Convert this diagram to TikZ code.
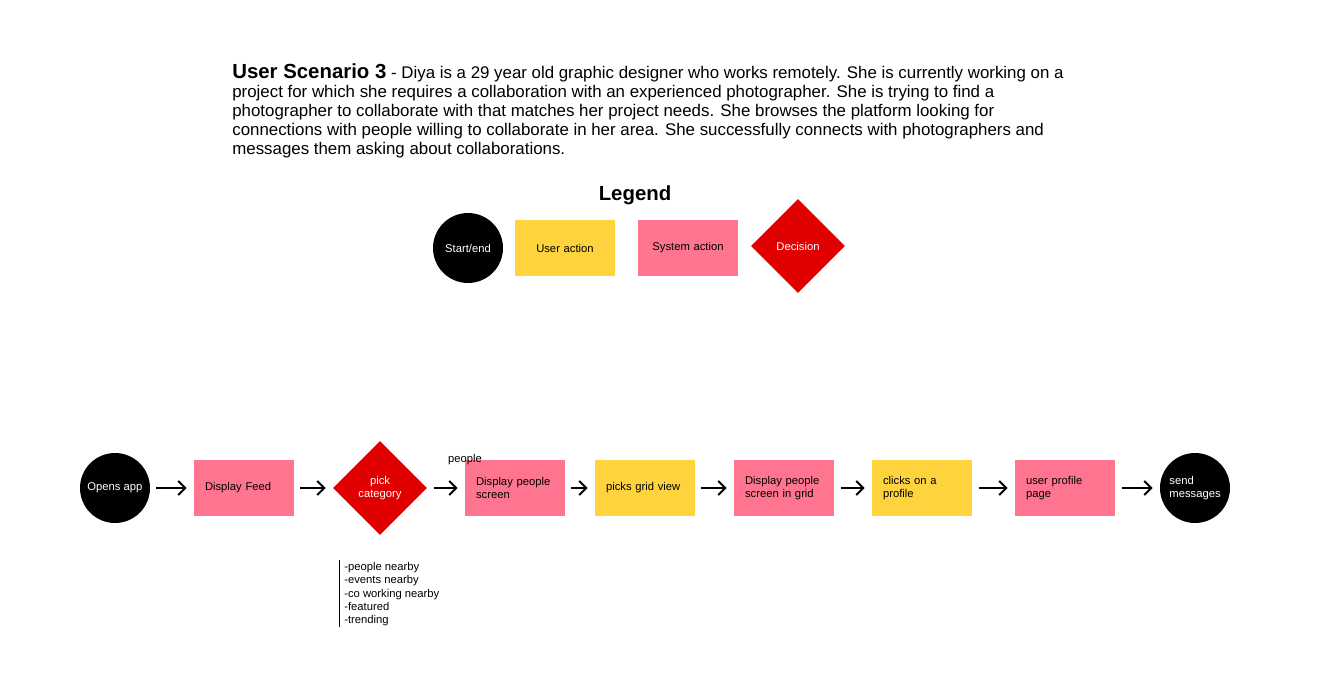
\documentclass[tikz,border=0pt]{standalone}
\usepackage{fontspec}
\setmainfont{Liberation Sans}
\usetikzlibrary{shapes.geometric}
\usetikzlibrary{arrows.meta}

\definecolor{useryellow}{RGB}{255,211,61}
\definecolor{syspink}{RGB}{255,117,143}
\definecolor{decred}{RGB}{224,0,0}

\tikzset{
  small/.style={font=\fontsize{6.4}{7.6}\selectfont},
  startend/.style={circle,fill=black,text=white,minimum size=1.4cm,inner sep=0pt,align=center,small},
  useract/.style={rectangle,fill=useryellow,minimum height=1.12cm,text width=1.56cm,inner xsep=0.22cm,align=left,small},
  sysact/.style={useract,fill=syspink},
  decision/.style={diamond,fill=decred,text=white,minimum size=1.88cm,inner sep=0pt,align=center,small},
  flow/.style={-{Straight Barb[length=4pt,width=8pt]},line width=1.1pt,shorten <=3.5pt,shorten >=4pt}
}

\begin{document}
\begin{tikzpicture}[x=0.02cm,y=-0.02cm]
\useasboundingbox (0,0) rectangle (1332,687);

% scenario text
\node[anchor=north west,align=left,inner sep=0pt,font=\fontsize{9.6}{10.8}\selectfont](scenario) at (232,63){%
{\bfseries\fontsize{11.6}{10.8}\selectfont User Scenario 3} - Diya is a 29 year old graphic designer who works remotely. She is currently working on a\\
project for which she requires a collaboration with an experienced photographer. She is trying to find a\\
photographer to collaborate with that matches her project needs. She browses the platform looking for\\
connections with people willing to collaborate in her area. She successfully connects with photographers and\\
messages them asking about collaborations.};

% legend
\node[font=\bfseries\fontsize{11.6}{13}\selectfont](legend) at (635,195){Legend};
\node[startend](lstart) at (468,248){Start/end};
\node[useract,align=center](luser) at (565,248){User action};
\node[sysact,align=center](lsys) at (688,248){System action};
\node[decision](ldec) at (798,246){Decision};

% flow
\node[startend](opens) at (115,488){Opens app};
\node[sysact](feed) at (244,488){Display Feed};
\node[decision](pick) at (380,488){pick\\category};
\node[sysact](people) at (515,488){Display people\\screen};
\node[useract](grid) at (645,488){picks grid view};
\node[sysact](pgrid) at (784,488){Display people\\screen in grid};
\node[useract](clicks) at (922,488){clicks on a\\profile};
\node[sysact](profile) at (1065,488){user profile\\page};
\node[startend,align=left](send) at (1195,488){send\\messages};

\node[small](plabel) at (465,460){people};
\node[small,anchor=north west,align=left,inner sep=0pt](cats) at (344,562){-people nearby\\-events nearby\\-co working nearby\\-featured\\-trending};
\draw[line width=0.5pt] ([xshift=-0.1cm,yshift=1pt]cats.north west) -- ([xshift=-0.1cm]cats.south west);

\path
(opens) edge[flow] (feed)
(feed) edge[flow] (pick)
(pick) edge[flow] (people)
(people) edge[flow] (grid)
(grid) edge[flow] (pgrid)
(pgrid) edge[flow] (clicks)
(clicks) edge[flow] (profile)
(profile) edge[flow] (send);
\end{tikzpicture}
\end{document}
